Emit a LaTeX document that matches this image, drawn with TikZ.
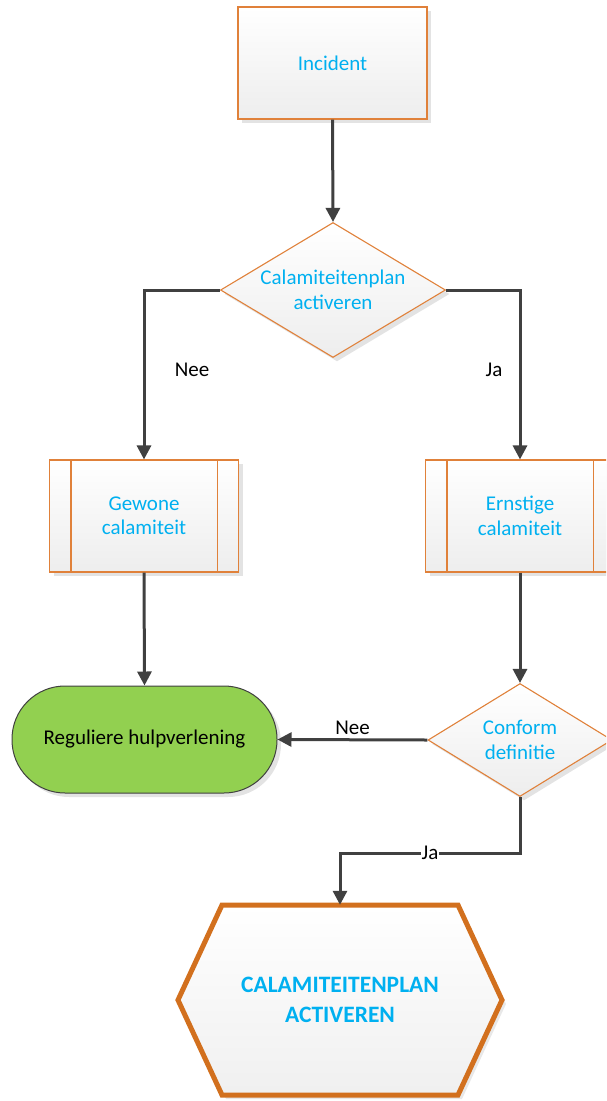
\documentclass[tikz,border=0pt]{standalone}
\usepackage{fontspec}
\setmainfont{Carlito}
\usetikzlibrary{shapes.geometric,arrows.meta,shadows}

\definecolor{boxorange}{HTML}{E0813A}
\definecolor{hexorange}{HTML}{D2701E}
\definecolor{textblue}{HTML}{00B0F0}
\definecolor{linegray}{HTML}{404040}
\definecolor{termgreen}{HTML}{92D050}

\tikzset{
  shadebox/.style={top color=white, bottom color=black!7,
    drop shadow={shadow xshift=4pt, shadow yshift=-4pt, fill=black!22}},
  procbox/.style={shadebox, draw=boxorange, line width=1.1pt,
    minimum width=189pt, minimum height=112pt, inner sep=0pt,
    align=center, text=textblue, font=\fontsize{21}{24.5}\selectfont},
  decision/.style={diamond, shadebox, draw=boxorange, line width=1.1pt, inner sep=0pt},
  dectext/.style={align=center, text=textblue, font=\fontsize{21}{24.5}\selectfont},
  terminal/.style={draw=linegray, line width=1pt, fill=termgreen,
    rounded corners=53pt, minimum width=265pt, minimum height=107pt,
    drop shadow={shadow xshift=4pt, shadow yshift=-4pt, fill=black!22},
    font=\fontsize{21}{24.5}\selectfont},
  flow/.style={draw=linegray, line width=3pt, -{Triangle[length=14pt,width=14pt]}},
  lbl/.style={font=\fontsize{21}{24.5}\selectfont, text=black, inner sep=1pt}
}

\begin{document}
\begin{tikzpicture}[x=1pt, y=-1pt]

\useasboundingbox (0,0) rectangle (606,1101);
\clip (0,0) rectangle (606,1101);

\node[procbox] (incident) at (332.5, 63) {Incident};
\node[decision, minimum width=225pt, minimum height=135pt,
  label={[dectext]center:Calamiteitenplan\\activeren}] (plan) at (333, 290) {};

\node[procbox] (gewone) at (144, 516) {Gewone\\calamiteit};
\node[procbox] (ernstig) at (520, 516) {Ernstige\\calamiteit};
\draw[boxorange, line width=1.1pt] ([xshift=22pt]gewone.north west) -- ([xshift=22pt]gewone.south west);
\draw[boxorange, line width=1.1pt] ([xshift=-22pt]gewone.north east) -- ([xshift=-22pt]gewone.south east);
\draw[boxorange, line width=1.1pt] ([xshift=22pt]ernstig.north west) -- ([xshift=22pt]ernstig.south west);
\draw[boxorange, line width=1.1pt] ([xshift=-22pt]ernstig.north east) -- ([xshift=-22pt]ernstig.south east);

\node[terminal] (regulier) at (144.5, 739.5) {Reguliere hulpverlening};
\node[decision, minimum width=184pt, minimum height=113pt,
  label={[dectext]center:Conform\\definitie}] (conform) at (520, 740) {};

% -------- hexagon -----------
\draw[hexorange, line width=5pt, top color=white, bottom color=black!6,
  drop shadow={shadow xshift=4pt, shadow yshift=-4pt, fill=black!18}]
  (222,905) -- (458,905) -- (502,1000) -- (458,1095) -- (222,1095) -- (178,1000) -- cycle;
\node[minimum width=324pt, minimum height=190pt, align=center, text=textblue,
  font=\fontsize{23.5}{30}\selectfont\bfseries] (hex) at (340, 1000) {CALAMITEITENPLAN\\ACTIVEREN};

% -------- connectors -----------
\draw[flow] (incident.south) -- (plan.north);
\draw[flow] (plan.west) -| node[lbl, pos=0.735, xshift=48pt] {Nee} (gewone.north);
\draw[flow] (plan.east) -| node[lbl, pos=0.735, xshift=-26pt] {Ja} (ernstig.north);
\draw[flow] (gewone.south) -- (regulier.north);
\draw[flow] (ernstig.south) -- (conform.north);
\draw[flow] (conform.west) -- node[lbl, above=3pt] {Nee} (regulier.east);
\coordinate (jaknik) at (520, 853);
\draw[flow] (conform.south) -- (jaknik) -| node[lbl, pos=0.25, fill=white] {Ja} (hex.north);

\end{tikzpicture}
\end{document}
